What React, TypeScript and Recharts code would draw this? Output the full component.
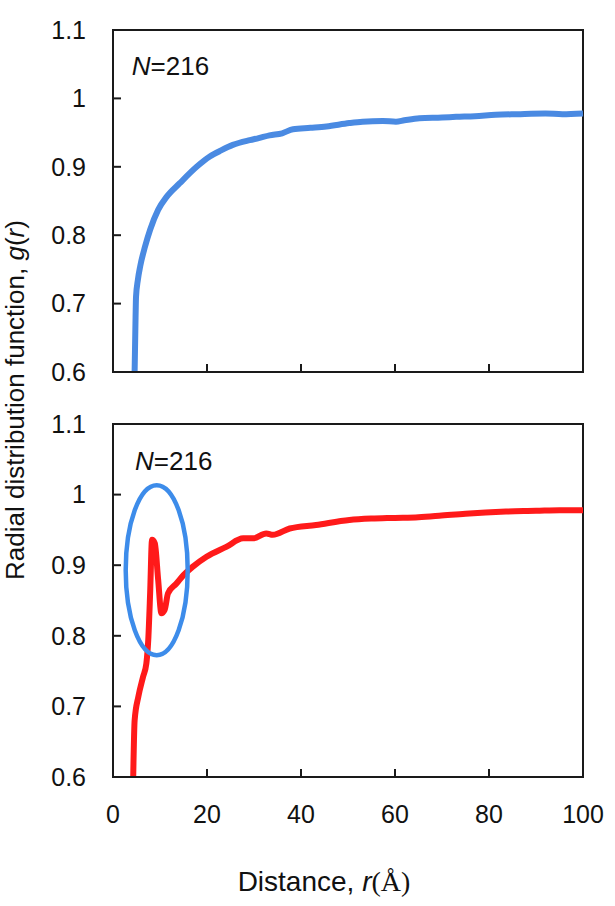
import React from "react";
import { LineChart, Line, XAxis, YAxis, ReferenceArea, ReferenceDot } from "recharts";

// axis ticks
const xTicks = [0, 20, 40, 60, 80, 100];
const yTicks = [0.6, 0.7, 0.8, 0.9, 1, 1.1];

// top panel (blue) : r (Å) and g(r)
const blueR = [4.6, 4.8, 4.9, 5.3, 5.8, 6.8, 7.9, 9.6, 11.4, 14.2, 17.8, 20.6, 23, 25.5, 29.1, 31, 33.3, 36, 38.3, 42, 45.4, 50.3, 53.1, 57.4, 60.2, 62, 65.2, 70, 73, 77, 81.4, 86, 92, 95.6, 100];
const blueG = [0.6, 0.68, 0.71, 0.735, 0.755, 0.783, 0.808, 0.837, 0.856, 0.876, 0.9, 0.915, 0.924, 0.932, 0.939, 0.942, 0.946, 0.949, 0.955, 0.957, 0.959, 0.964, 0.966, 0.967, 0.966, 0.968, 0.971, 0.972, 0.973, 0.974, 0.976, 0.977, 0.978, 0.977, 0.978];

// bottom panel (red)
const redR = [4.3, 4.6, 5.4, 6.4, 7.1, 7.5, 7.9, 8.3, 8.9, 9.6, 10.3, 11, 11.7, 13.5, 15, 17, 19.9, 24.1, 27.7, 29.8, 32.6, 34, 37.6, 43.2, 50.3, 55, 60, 65, 69.4, 75, 83.6, 90, 95, 100];
const redG = [0.6, 0.68, 0.714, 0.742, 0.761, 0.794, 0.86, 0.936, 0.931, 0.88, 0.832, 0.837, 0.86, 0.874, 0.886, 0.898, 0.912, 0.926, 0.938, 0.938, 0.945, 0.943, 0.952, 0.957, 0.964, 0.966, 0.967, 0.968, 0.97, 0.973, 0.976, 0.977, 0.978, 0.978];

const topData = blueR.map((r, i) => ({ r, g: blueG[i] }));
const bottomData = redR.map((r, i) => ({ r, g: redG[i] }));

const AXIS = "#1a1a1a";
const SANS = "'Liberation Sans', Arial, sans-serif";
const tickStyle = { fontSize: 25, fontFamily: SANS, fill: "#111" };

function NLabel(p: any) {
  return (
    <text x={p.cx} y={p.cy} fontSize={26} fontFamily={SANS} fill="#111">
      <tspan fontStyle="italic">N</tspan>=216
    </text>
  );
}

function XTitle(props: any) {
  const vb = props.viewBox || {};
  return (
    <text x={vb.x + vb.width / 2 - 24} y={vb.y + 114} textAnchor="middle" fontSize={28} fill="#111" fontFamily={SANS}>
      Distance, <tspan fontStyle="italic">r</tspan>
      <tspan fontFamily="'Liberation Serif', serif">(Å)</tspan>
    </text>
  );
}

function Panel({ data, color, showX, nx, ny, circle }: { data: { r: number; g: number }[]; color: string; showX: boolean; nx: number; ny: number; circle?: boolean }) {
  const h = showX ? 512 : 400;
  return (
    <LineChart width={615} height={h} data={data} margin={{ top: 30, right: 32, bottom: 0, left: 0 }}>
      <XAxis
        dataKey="r"
        type="number"
        domain={[0, 100]}
        ticks={xTicks}
        interval={0}
        height={showX ? 129 : 28}
        tickSize={-8}
        tickMargin={showX ? 36 : 0}
        tick={tickStyle}
        tickFormatter={showX ? undefined : () => ""}
        axisLine={{ stroke: AXIS, strokeWidth: 2 }}
        tickLine={{ stroke: AXIS, strokeWidth: 2 }}
        label={showX ? <XTitle /> : undefined}
      />
      <YAxis
        type="number"
        domain={[0.6, 1.1]}
        ticks={yTicks}
        interval={0}
        allowDataOverflow
        width={113}
        tickSize={-8}
        tickMargin={35}
        tick={tickStyle}
        axisLine={{ stroke: AXIS, strokeWidth: 2 }}
        tickLine={{ stroke: AXIS, strokeWidth: 2 }}
      />
      <ReferenceArea x1={0} x2={100} y1={0.6} y2={1.1} fill="none" stroke={AXIS} strokeWidth={2} />
      <ReferenceDot x={nx} y={ny} r={0} shape={NLabel} />
      {circle && (
        <ReferenceDot
          x={9.3}
          y={0.893}
          r={0}
          shape={(p: any) => <ellipse cx={p.cx} cy={p.cy} rx={31} ry={85} fill="none" stroke="#3d8cea" strokeWidth={4.5} />}
        />
      )}
      <Line type="monotone" dataKey="g" stroke={color} strokeWidth={6} dot={false} isAnimationActive={false} />
    </LineChart>
  );
}

export default function App() {
  return (
    <div style={{ position: "absolute", left: 0, top: 0, width: 615, height: 906, background: "#fff" }}>
      <div style={{ position: "absolute", left: 0, top: 0 }}>
        <Panel data={topData} color="#4a8ae2" showX={false} nx={4} ny={1.034} />
      </div>
      <div style={{ position: "absolute", left: 0, top: 394 }}>
        <Panel data={bottomData} color="#ff1a1a" showX nx={4.7} ny={1.035} circle />
      </div>
      <svg width={40} height={906} style={{ position: "absolute", left: 0, top: 0 }}>
        <text x={24} y={400} transform="rotate(-90, 24, 400)" textAnchor="middle" fontSize={26} fontFamily={SANS} fill="#111">
          Radial distribution function, <tspan fontStyle="italic">g</tspan>(<tspan fontStyle="italic">r</tspan>)
        </text>
      </svg>
    </div>
  );
}
